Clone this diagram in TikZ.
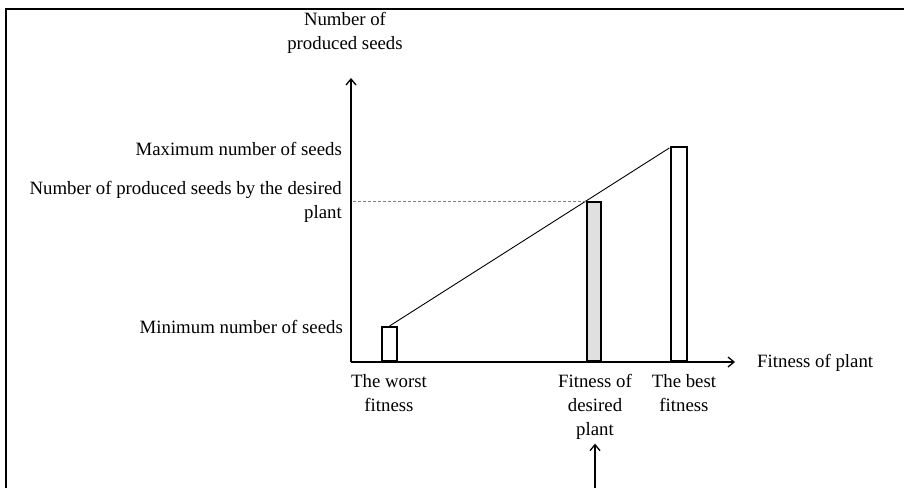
\documentclass[tikz,border=0pt]{standalone}
\usepackage{fontspec}
\setmainfont{Liberation Serif}
\usetikzlibrary{arrows.meta,calc}
\begin{document}
\begin{tikzpicture}[x=1pt,y=-1pt,
  lab/.style={font=\fontsize{18.8}{24}\selectfont, inner sep=0pt},
  axis/.style={line width=1.3pt, -{Straight Barb[length=6pt,width=10pt,line width=1.3pt]}},
  bar/.style={draw, line width=2pt, inner sep=0pt, anchor=south west},
  frame/.style={line width=2.7pt}]
\useasboundingbox (0,0) rectangle (904,488);
% frame
\draw[frame] (6,488) -- (6,9) -- (904,9);
% axes
\coordinate (O) at (351,362);
\coordinate (ytip) at (351,78);
\coordinate (xtip) at (735,362);
\draw[axis] (O) -- (ytip);
\draw[axis] (O) -- (xtip);
% bars
\node[bar, minimum width=15pt, minimum height=34pt] (worst) at (381,362) {};
\node[bar, fill=black!12, minimum width=14pt, minimum height=159pt] (des) at (586,362) {};
\node[bar, minimum width=16pt, minimum height=214pt] (best) at (670,362) {};
% slope line and dashed level
\draw[line width=0.9pt] (worst.north) -- ($(worst.north)!1.4242!(des.north west)$);
\draw[gray, line width=0.9pt, dash pattern=on 3pt off 2pt] (des.north west) -- (des.north west -| O);
% labels
\node[lab, align=center, anchor=north] (ylab) at (345,12) {Number of\\produced seeds};
\node[lab, anchor=base east] (maxl) at (342,155) {Maximum number of seeds};
\node[lab, align=right, anchor=north east] (desl) at (342,181) {Number of produced seeds by the desired\\plant};
\node[lab, anchor=base east] (minl) at (343,333) {Minimum number of seeds};
\node[lab, anchor=base west] (xlab) at (757,367) {Fitness of plant};
\node[lab, align=center, anchor=north] (worstl) at (389,374) {The worst\\fitness};
\node[lab, align=center, anchor=north] (desfl) at (595,374) {Fitness of\\desired\\plant};
\node[lab, align=center, anchor=north] (bestl) at (684,374) {The best\\fitness};
% bottom arrow
\coordinate (bot) at (desfl.south |- 0,488);
\draw[axis] (bot) -- ([yshift=-4pt]desfl.south);
\end{tikzpicture}
\end{document}
